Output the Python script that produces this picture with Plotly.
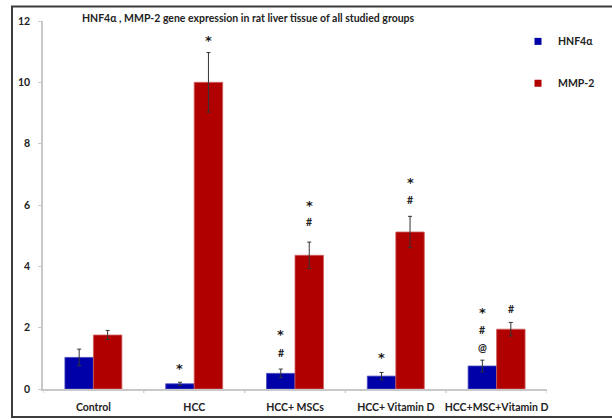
import plotly.graph_objects as go

categories = ["Control", "HCC", "HCC+ MSCs", "HCC+ Vitamin D", "HCC+MSC+Vitamin D"]
hnf4a = [1.03, 0.17, 0.51, 0.42, 0.75]
hnf4a_err = [0.27, 0.05, 0.14, 0.12, 0.19]
mmp2 = [1.76, 10.0, 4.36, 5.12, 1.95]
mmp2_err = [0.15, 0.97, 0.43, 0.51, 0.22]
y_ticks = [0, 2, 4, 6, 8, 10, 12]

# significance marks: (category index, series, symbol, y value)
marks = [
    (1, "HNF4α", "*", 0.76),
    (1, "MMP-2", "*", 11.45),
    (2, "HNF4α", "*", 1.86),
    (2, "HNF4α", "#", 1.18),
    (2, "MMP-2", "*", 6.08),
    (2, "MMP-2", "#", 5.45),
    (3, "HNF4α", "*", 1.13),
    (3, "MMP-2", "*", 6.83),
    (3, "MMP-2", "#", 6.16),
    (4, "HNF4α", "*", 2.6),
    (4, "HNF4α", "#", 1.94),
    (4, "HNF4α", "@", 1.35),
    (4, "MMP-2", "#", 2.6),
]

title = "HNF4α , MMP-2 gene expression in rat liver tissue of all studied groups"

FONT = "Lato"
W, H = 612, 419
L, R, T, B = 43, 65, 20.6, 30
bargap = 0.435
BLUE, RED = "#0000A8", "#B00000"

fig = go.Figure()
fig.add_bar(
    x=list(range(len(categories))), y=hnf4a, name="HNF4α", showlegend=False,
    marker=dict(color=BLUE, line=dict(color="#4a4ac0", width=0.8)),
    error_y=dict(type="data", array=hnf4a_err, color="#333333", thickness=1, width=2),
)
fig.add_bar(
    x=list(range(len(categories))), y=mmp2, name="MMP-2", showlegend=False,
    marker=dict(color=RED, line=dict(color="#d06060", width=0.8)),
    error_y=dict(type="data", array=mmp2_err, color="#333333", thickness=1, width=2),
)
# legend entries with small square keys
fig.add_scatter(x=[None], y=[None], mode="markers", name="<b>HNF4α</b>", showlegend=True,
                marker=dict(symbol="square", size=7, color=BLUE), legend="legend")
fig.add_scatter(x=[None], y=[None], mode="markers", name="<b>MMP-2</b>", showlegend=True,
                marker=dict(symbol="square", size=7, color=RED), legend="legend2")

off = (1 - bargap) / 4
for ci, series, sym, yv in marks:
    xv = ci - off if series == "HNF4α" else ci + off
    if sym == "*":
        fnt = dict(family="DejaVu Sans", size=13, color="#1a1a1a")
        shift = -3
    else:
        fnt = dict(family=FONT, size=10.5, color="#222222")
        shift = 0
    fig.add_annotation(
        x=xv, y=yv, xref="x", yref="y", text=f"<b>{sym}</b>",
        showarrow=False, font=fnt, yanchor="middle", yshift=shift,
    )

plot_w = W - L - R
plot_h = H - T - B

# outer frame
fig.add_shape(
    type="rect", xref="paper", yref="paper",
    x0=(12 - L) / plot_w, x1=(618 - L) / plot_w,
    y0=-(417 - (H - B)) / plot_h, y1=((H - B) - 6) / plot_h,
    line=dict(color="#3c3c3c", width=2), fillcolor="rgba(0,0,0,0)", layer="below",
)

legend_common = dict(
    x=(518 - L) / plot_w, xanchor="left", yanchor="middle",
    font=dict(family=FONT, size=10.5, color="#222222"), bgcolor="rgba(0,0,0,0)",
    itemwidth=30,
)

fig.update_layout(
    width=W, height=H,
    margin=dict(l=L, r=R, t=T, b=B, autoexpand=False),
    paper_bgcolor="white", plot_bgcolor="white",
    barmode="group", bargap=bargap, bargroupgap=0,
    showlegend=True,
    font=dict(family=FONT, color="#222222"),
    title=dict(
        text=f"<b>{title}</b>", xref="container", yref="container",
        x=82 / W, xanchor="left", y=1 - 18 / H, yanchor="middle",
        font=dict(family=FONT, size=10.5, color="#222222"),
    ),
    legend=dict(y=(H - B - 41) / plot_h, **legend_common),
    legend2=dict(y=(H - B - 83) / plot_h, **legend_common),
    xaxis=dict(
        tickmode="array", tickvals=list(range(len(categories))),
        ticktext=[f"<b>{c}</b>" for c in categories],
        range=[-0.5, len(categories) - 0.5],
        showline=True, linecolor="#c8c8c8", linewidth=1.5,
        ticks="", showgrid=False, zeroline=False, automargin=False,
        tickfont=dict(family=FONT, size=10.5, color="#222222"),
        ticklabelstandoff=8,
    ),
    yaxis=dict(
        range=[0, 12], tickvals=y_ticks, ticktext=[f"<b>{v}</b>" for v in y_ticks],
        showline=True, linecolor="#c8c8c8", linewidth=1.5,
        ticks="outside", ticklen=3, tickcolor="#c8c8c8",
        showgrid=False, zeroline=False, automargin=False,
        tickfont=dict(family=FONT, size=10.5, color="#222222"),
        ticklabelstandoff=6,
    ),
)

# category boundary tick marks on the x axis
for i in range(len(categories) + 1):
    fig.add_shape(
        type="line", xref="x", yref="paper",
        x0=i - 0.5, x1=i - 0.5, y0=0, y1=-4 / plot_h,
        line=dict(color="#c8c8c8", width=1.2),
    )

fig.write_html(
    "out.html",
    config={"displayModeBar": False},
    post_script="document.body.style.margin='0';document.body.style.padding='0';",
)
